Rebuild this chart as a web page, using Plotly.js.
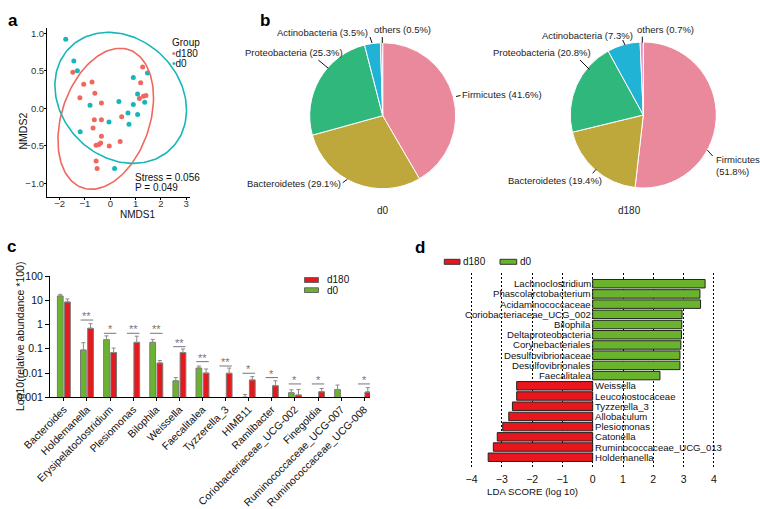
<!DOCTYPE html>
<html><head><meta charset="utf-8">
<script src="https://cdn.plot.ly/plotly-3.0.1.min.js"></script>
<style>html,body{margin:0;padding:0;background:#fff;} #chart{width:760px;height:509px;}</style>
</head><body><div id="chart"></div>
<script>
// ================= DATA =================
// Panel a: NMDS ordination
const nmdsD180X = [-1.48,-1.05,-0.72,-0.61,-1.20,-0.35,-0.63,-0.35,-0.68,-0.35,-0.56,-0.45,-0.38,-0.04,0.39,0.45,-0.56,-0.52,1.28,1.20,1.15,1.31,1.41];
const nmdsD180Y = [0.48,0.32,0.35,0.20,0.14,0.07,-0.15,-0.15,-0.26,-0.37,-0.49,-0.48,-0.46,-0.50,-0.44,-0.11,-0.70,-0.80,0.55,0.34,0.13,0.16,0.17];
const nmdsD0X = [-1.76,-1.44,-1.30,-0.80,-1.19,0.34,0.91,1.08,0.91,1.47,1.36,0.70,1.08,-0.05,0.74,0.17];
const nmdsD0Y = [0.92,0.63,0.50,0.04,-0.31,0.09,0.41,0.19,0.05,0.47,0.08,-0.06,-0.08,-0.18,-0.21,-0.80];
// group ellipses: centre and conjugate half-axes (NMDS units)
const ellipseD180 = {cx:-0.18, cy:-0.139, ux:1.888, uy:0.283, vx:0, vy:0.895};
const ellipseD0   = {cx:0.412, cy:0.14,  ux:2.6,   uy:-0.164, vx:0, vy:0.857};
const stressText = ['Stress = 0.056', 'P = 0.049'];

// Panel b: phylum composition (%)
const phyla = ['Firmicutes','Bacteroidetes','Proteobacteria','Actinobacteria','others'];
const phylaD0 = [41.6, 29.1, 25.3, 3.5, 0.5];
const phylaD180 = [51.8, 19.4, 20.8, 7.3, 0.7];

// Panel c: genus abundance (relative abundance *100)
const genera = ['Bacteroides','Holdemanella','Erysipelatoclostridium','Plesiomonas','Bilophila','Weissella','Faecalitalea','Tyzzerella_3','HIMB11','Ramlibacter','Coriobacteriaceae_UCG-002','Finegoldia','Ruminococcaceae_UCG-007','Ruminococcaceae_UCG-008'];
const abundD0   = [15, 0.089, 0.24, null, 0.184, 0.0048, 0.016, null, 0.001, null, 0.00154, null, 0.0021, null];
const errD0     = [2.6, 0.09, 0.10, null, 0.06, 0.0017, 0.0035, null, 0.0003, null, 0.0005, null, 0.0011, null];
const abundD180 = [8.5, 0.70, 0.07, 0.184, 0.026, 0.07, 0.01, 0.0098, 0.0052, 0.003, 0.00124, 0.0017, null, 0.00165];
const errD180   = [2.8, 0.38, 0.037, 0.146, 0.007, 0.028, 0.0047, 0.0062, 0.0019, 0.0018, 0.00086, 0.0006, null, 0.00085];
const sigLabel  = ['', '**', '*', '**', '**', '**', '**', '**', '*', '*', '*', '*', '', '*'];
const sigLevel  = [null, 1.53, 0.434, 0.434, 0.434, 0.122, 0.0295, 0.0195, 0.0098, 0.0065, 0.00355, 0.00355, null, 0.00355];

// Panel d: LEfSe LDA scores
const ldaD0Names = ['Lachnoclostridium','Phascolarctobacterium','Acidaminococcaceae','Coriobacteriaceae_UCG_002','Bilophila','Deltaproteobacteria','Corynebacteriales','Desulfovibrionaceae','Desulfovibrionales','Faecalitalea'];
const ldaD0Scores = [3.71, 3.54, 3.56, 2.95, 2.94, 2.93, 2.91, 2.88, 2.88, 2.22];
const ldaD180Names = ['Weissella','Leuconostocaceae','Tyzzerella_3','Allobaculum','Plesiomonas','Catonella','Ruminococcaceae_UCG_013','Holdemanella'];
const ldaD180Scores = [-2.51, -2.51, -2.65, -2.77, -2.97, -3.15, -3.28, -3.45];
const ldaTicks = [-4,-3,-2,-1,0,1,2,3,4];

// ================= STYLE =================
const FONT = 'Liberation Sans, Arial, Helvetica, sans-serif';
const W = 760, H = 509;
const PX = x => x / W;
const PY = y => 1 - y / H;
const C_RED_A = '#F1675D', C_TEAL_A = '#17B6B9';
const PIE_COLORS = ['#EA889C','#BFA83B','#30B77B','#20B3D6','#E48CCB'];
const C_GREEN = '#6AB42D', C_RED = '#E41A1C';

const traces = [];
const shapes = [];
const annotations = [];

// ---------- Panel a ----------
function ellipsePts(e, n) {
  const xs = [], ys = [];
  for (let k = 0; k <= n; k++) {
    const t = 2 * Math.PI * k / n;
    xs.push(e.cx + e.ux * Math.cos(t) + e.vx * Math.sin(t));
    ys.push(e.cy + e.uy * Math.cos(t) + e.vy * Math.sin(t));
  }
  return {xs, ys};
}
traces.push({type:'scatter', mode:'markers', x:nmdsD180X, y:nmdsD180Y, name:'d180',
  marker:{color:C_RED_A, size:5}, xaxis:'x', yaxis:'y', hoverinfo:'x+y+name'});
traces.push({type:'scatter', mode:'markers', x:nmdsD0X, y:nmdsD0Y, name:'d0',
  marker:{color:C_TEAL_A, size:5}, xaxis:'x', yaxis:'y', hoverinfo:'x+y+name'});
const e180 = ellipsePts(ellipseD180, 160), e0 = ellipsePts(ellipseD0, 160);
traces.push({type:'scatter', mode:'lines', x:e180.xs, y:e180.ys, line:{color:C_RED_A, width:1.6}, xaxis:'x', yaxis:'y', hoverinfo:'skip'});
traces.push({type:'scatter', mode:'lines', x:e0.xs, y:e0.ys, line:{color:C_TEAL_A, width:1.6}, xaxis:'x', yaxis:'y', hoverinfo:'skip'});

annotations.push({xref:'paper', yref:'paper', x:PX(118.5), y:PY(214.5), text:'NMDS1', showarrow:false, borderpad:0, font:{size:10, color:'#111'}});
annotations.push({xref:'paper', yref:'paper', x:PX(15), y:PY(112), text:'NMDS2', textangle:-90, showarrow:false, borderpad:0, font:{size:10.5, color:'#111'}});
annotations.push({xref:'paper', yref:'paper', x:PX(171), y:PY(36), xanchor:'left', text:'Group', showarrow:false, borderpad:0, font:{size:10, color:'#111'}});
annotations.push({xref:'paper', yref:'paper', x:PX(171), y:PY(47.5), xanchor:'left', text:'<span style="color:'+C_RED_A+'">•</span>d180', showarrow:false, borderpad:0, font:{size:10, color:'#111'}});
annotations.push({xref:'paper', yref:'paper', x:PX(171), y:PY(57.5), xanchor:'left', text:'<span style="color:'+C_TEAL_A+'">•</span>d0', showarrow:false, borderpad:0, font:{size:10, color:'#111'}});
annotations.push({xref:'paper', yref:'paper', x:PX(133.5), y:PY(177), xanchor:'left', text:stressText[0], showarrow:false, borderpad:0, font:{size:10, color:'#111'}});
annotations.push({xref:'paper', yref:'paper', x:PX(133.5), y:PY(187.5), xanchor:'left', text:stressText[1], showarrow:false, borderpad:0, font:{size:10, color:'#111'}});

// ---------- Panel b ----------
const R = 73;
function pieDomain(cx, cy) {
  return {x:[PX(cx - R), PX(cx + R)], y:[PY(cy + R), PY(cy - R)]};
}
traces.push({type:'pie', values:phylaD0, labels:phyla, sort:false, direction:'clockwise', rotation:0,
  textinfo:'none', marker:{colors:PIE_COLORS, line:{color:'#fff', width:1}}, domain:pieDomain(382.7, 115.7), showlegend:false});
traces.push({type:'pie', values:phylaD180, labels:phyla, sort:false, direction:'clockwise', rotation:0,
  textinfo:'none', marker:{colors:PIE_COLORS, line:{color:'#fff', width:1}}, domain:pieDomain(643.3, 115), showlegend:false});

// label placement (page px): [leader line, textX, textY, anchor]
const pieLabelPos = [
  [[[372,43],[370,37]], 369, 32.3, 'right'],        // Actinobacteria
  [[[382.3,43],[382.3,37]], 373.3, 30, 'left'],     // others
  [[[328.3,68.3],[318.3,60]], 344, 52.3, 'right'],  // Proteobacteria
  [[[456,96.5],[460.5,95.5]], 461, 95, 'left'],     // Firmicutes
  [[[347.3,179.3],[342.7,182.7]], 342, 183.3, 'right'] // Bacteroidetes
];
const pieLabelPos180 = [
  [[[625,45],[622.7,40]], 633.5, 35, 'right'],
  [[[642.3,42.7],[642.3,36.7]], 635.7, 30, 'left'],
  [[[589.3,69.3],[580,60]], 592, 52.3, 'right'],
  [[[707.3,150],[712.7,156]], 715, 165.5, 'left'],
  [[[596,169.3],[592.7,173.3]], 602.5, 180, 'right']
];
const labelOrder = [3, 4, 2, 0, 1];
function pieLabels(vals, pos, twoLineFirm) {
  labelOrder.forEach((idx, k) => {
    const p = pos[k];
    shapes.push({type:'line', xref:'paper', yref:'paper', x0:PX(p[0][0][0]), y0:PY(p[0][0][1]), x1:PX(p[0][1][0]), y1:PY(p[0][1][1]), line:{color:'#111', width:1}});
    const txt = (twoLineFirm && idx === 0) ? phyla[idx] + '<br>(' + vals[idx] + '%)' : phyla[idx] + ' (' + vals[idx] + '%)';
    annotations.push({xref:'paper', yref:'paper', x:PX(p[1]), y:PY(p[2]), xanchor:p[3], yanchor:'middle', align:'left',
      text:txt, showarrow:false, font:{size:9.5, color:'#222'}, borderpad:0});
  });
}
pieLabels(phylaD0, pieLabelPos, false);
pieLabels(phylaD180, pieLabelPos180, true);
annotations.push({xref:'paper', yref:'paper', x:PX(382.7), y:PY(210), text:'d0', showarrow:false, font:{size:10, color:'#222'}});
annotations.push({xref:'paper', yref:'paper', x:PX(643.3), y:PY(210), text:'d180', showarrow:false, font:{size:10, color:'#222'}});

// ---------- Panel c ----------
const zerosD0 = errD0.map(v => v == null ? null : 0);
const zerosD180 = errD180.map(v => v == null ? null : 0);
traces.push({type:'bar', x:genera, y:abundD0, name:'d0', xaxis:'x2', yaxis:'y2',
  marker:{color:C_GREEN, line:{color:'#7A7A7A', width:1}},
  error_y:{type:'data', symmetric:false, array:errD0, arrayminus:zerosD0, color:'#8A8A8A', thickness:1, width:2}});
traces.push({type:'bar', x:genera, y:abundD180, name:'d180', xaxis:'x2', yaxis:'y2',
  marker:{color:C_RED, line:{color:'#7A7A7A', width:1}},
  error_y:{type:'data', symmetric:false, array:errD180, arrayminus:zerosD180, color:'#8A8A8A', thickness:1, width:2}});
sigLevel.forEach((lv, i) => {
  if (lv == null) return;
  shapes.push({type:'line', xref:'x2', yref:'y2', x0:i - 0.27, x1:i + 0.27, y0:lv, y1:lv, line:{color:'#777', width:1}});
  annotations.push({xref:'x2', yref:'y2', x:i, y:Math.log10(lv), yanchor:'bottom', yshift:-4, text:sigLabel[i], showarrow:false, font:{size:11, color:'#777'}});
});
annotations.push({xref:'paper', yref:'paper', x:PX(13), y:PY(337), text:'Log10(relative abundance *100)', textangle:-90, showarrow:false, borderpad:0, font:{size:10.5, color:'#111'}});
// legend c
shapes.push({type:'rect', xref:'paper', yref:'paper', x0:PX(304.5), x1:PX(318.5), y0:PY(282.5), y1:PY(277.5), fillcolor:C_RED, line:{color:'#666', width:1}});
shapes.push({type:'rect', xref:'paper', yref:'paper', x0:PX(304.5), x1:PX(318.5), y0:PY(292.5), y1:PY(287.8), fillcolor:C_GREEN, line:{color:'#666', width:1}});
annotations.push({xref:'paper', yref:'paper', x:PX(326), y:PY(279.7), xanchor:'left', text:'d180', showarrow:false, borderpad:0, font:{size:10, color:'#111'}});
annotations.push({xref:'paper', yref:'paper', x:PX(326), y:PY(290.5), xanchor:'left', text:'d0', showarrow:false, borderpad:0, font:{size:10, color:'#111'}});

// ---------- Panel d ----------
const ldaOrder = ldaD0Names.concat(ldaD180Names);
traces.push({type:'bar', orientation:'h', y:ldaD0Names, x:ldaD0Scores, name:'d0', xaxis:'x3', yaxis:'y3',
  offset:-0.415, width:0.83, marker:{color:C_GREEN, line:{color:'#222', width:1}}});
traces.push({type:'bar', orientation:'h', y:ldaD180Names, x:ldaD180Scores, name:'d180', xaxis:'x3', yaxis:'y3',
  offset:-0.415, width:0.83, marker:{color:'#E8171D', line:{color:'#222', width:1}}});
ldaD0Names.forEach(n => annotations.push({xref:'x3', yref:'y3', x:0, y:n, xanchor:'right', xshift:-0.5, text:n, showarrow:false, borderpad:0, font:{size:9.6, color:'#111'}}));
ldaD180Names.forEach(n => annotations.push({xref:'x3', yref:'y3', x:0, y:n, xanchor:'left', xshift:1.5, text:n, showarrow:false, borderpad:0, font:{size:9.6, color:'#111'}}));
annotations.push({xref:'paper', yref:'paper', x:PX(579), y:PY(497.5), text:'LDA SCORE (log 10)', showarrow:false, borderpad:0, font:{size:9.7, color:'#111'}});
shapes.push({type:'rect', xref:'paper', yref:'paper', x0:PX(444.3), x1:PX(460), y0:PY(264.3), y1:PY(259.3), fillcolor:'#E8171D', line:{color:'#333', width:1}});
shapes.push({type:'rect', xref:'paper', yref:'paper', x0:PX(500), x1:PX(516.7), y0:PY(264.3), y1:PY(259.3), fillcolor:C_GREEN, line:{color:'#333', width:1}});
annotations.push({xref:'paper', yref:'paper', x:PX(461.5), y:PY(261.8), xanchor:'left', text:'d180', showarrow:false, borderpad:0, font:{size:10, color:'#111'}});
annotations.push({xref:'paper', yref:'paper', x:PX(518.5), y:PY(261.8), xanchor:'left', text:'d0', showarrow:false, borderpad:0, font:{size:10, color:'#111'}});

// panel letters
[['a',5.5,8.5],['b',264.5,9.5],['c',5,246.5],['d',420,247.5]].forEach(p => annotations.push({
  xref:'paper', yref:'paper', x:PX(p[1]), y:PY(p[2]), text:'<b>'+p[0]+'</b>', showarrow:false, font:{size:17, color:'#000'}}));

// ================= LAYOUT =================
const axBase = {showline:true, linecolor:'#000', linewidth:1, ticks:'outside', ticklen:3, tickcolor:'#000', showgrid:false, zeroline:false, fixedrange:true};
const layout = {
  width:W, height:H, margin:{l:0, r:0, t:0, b:0},
  paper_bgcolor:'#fff', plot_bgcolor:'rgba(0,0,0,0)',
  showlegend:false,
  font:{family:FONT, size:10, color:'#111'},
  barmode:'group', bargap:0.378, bargroupgap:0.2,
  xaxis: Object.assign({}, axBase, {domain:[PX(47), PX(190)], range:[-2.5, 3.15], tickvals:[-2,-1,0,1,2,3], ticklen:2, ticklabelstandoff:-4, anchor:'y', tickfont:{size:9.5, color:'#333'}}),
  yaxis: Object.assign({}, axBase, {domain:[PY(197), PY(28)], range:[-1.18, 1.07], tickvals:[-1,-0.5,0,0.5,1], tickformat:'.1f', ticklen:2, ticklabelstandoff:-2, anchor:'x', tickfont:{size:9.5, color:'#333'}}),
  xaxis2: Object.assign({}, axBase, {domain:[PX(50), PX(370)], type:'category', categoryorder:'array', categoryarray:genera, range:[-0.6, 13.25], tickangle:-45, ticklen:3, ticklabelstandoff:-2, anchor:'y2', tickfont:{size:10.5, color:'#111'}}),
  yaxis2: Object.assign({}, axBase, {domain:[PY(397.3), PY(276)], type:'log', range:[-3, 2], tickvals:[0.001,0.01,0.1,1,10,100], ticktext:['0.001','0.01','0.1','1','10','100'], ticklen:4, anchor:'x2', tickfont:{size:10.5, color:'#111'}}),
  xaxis3: {domain:[PX(459.4), PX(726)], range:[-4.4, 4.4], tickvals:ldaTicks, ticks:'', showline:false, zeroline:false, ticklabelstandoff:2,
    showgrid:true, gridcolor:'#000', gridwidth:1, griddash:'2px,2px', anchor:'y3', tickfont:{size:10.5, color:'#111'}, fixedrange:true},
  yaxis3: {domain:[PY(469.3), PY(273.3)], type:'category', categoryorder:'array', categoryarray:ldaOrder, range:[18.18, -1.02],
    showticklabels:false, showgrid:false, zeroline:false, showline:false, ticks:'', anchor:'x3', fixedrange:true},
  shapes:shapes, annotations:annotations
};
Plotly.newPlot('chart', traces, layout, {displayModeBar:false, responsive:false});
</script>
</body></html>
